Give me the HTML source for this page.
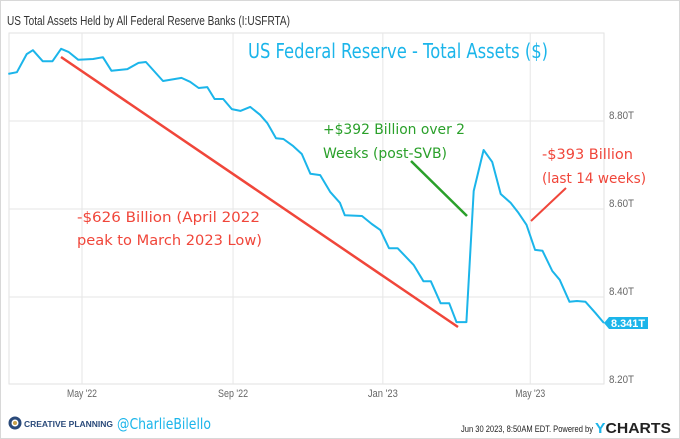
<!DOCTYPE html>
<html><head><meta charset="utf-8"><style>
html,body{margin:0;padding:0;background:#fff;}
svg{display:block;font-family:"Liberation Sans",sans-serif;}
.hand{font-family:"DejaVu Sans","Liberation Sans",sans-serif;}
</style></head><body>
<svg id="chart" width="680" height="439" viewBox="0 0 680 439">
<rect x="0.5" y="0.5" width="679" height="438" fill="#fff" stroke="#d8d8d8"/>
<text x="7" y="25" font-size="13" fill="#333" textLength="283" lengthAdjust="spacingAndGlyphs">US Total Assets Held by All Federal Reserve Banks (I:USFRTA)</text>
<rect x="9" y="33" width="595" height="351" fill="none" stroke="#e2e2e2"/>
<g id="grid"></g>
<g id="axes"></g>
<text class="hand" x="248" y="58" font-size="20" fill="#1bb5ea" textLength="300" lengthAdjust="spacingAndGlyphs">US Federal Reserve - Total Assets ($)</text>
<line x1="61" y1="57" x2="458" y2="327" stroke="#f0463a" stroke-width="2.5"/>
<line x1="411" y1="161" x2="467" y2="216" stroke="#2aa02a" stroke-width="2.5"/>
<line x1="531" y1="221" x2="566" y2="188" stroke="#f0463a" stroke-width="2"/>
<g class="hand" font-size="14">
<text x="323" y="134" fill="#2aa02a" textLength="142" lengthAdjust="spacingAndGlyphs">+$392 Billion over 2</text>
<text x="323" y="158" fill="#2aa02a" textLength="124" lengthAdjust="spacingAndGlyphs">Weeks (post-SVB)</text>
<text x="77" y="222" fill="#f0463a" textLength="183" lengthAdjust="spacingAndGlyphs">-$626 Billion (April 2022</text>
<text x="77" y="245" fill="#f0463a" textLength="185" lengthAdjust="spacingAndGlyphs">peak to March 2023 Low)</text>
<text x="542" y="159" fill="#f0463a" textLength="91" lengthAdjust="spacingAndGlyphs">-$393 Billion</text>
<text x="542" y="183" fill="#f0463a" textLength="104" lengthAdjust="spacingAndGlyphs">(last 14 weeks)</text>
</g>
<path id="series" fill="none" stroke="#1bb5ea" stroke-width="2" stroke-linejoin="round"/>
<g id="tag"></g>
<g>
<circle cx="15" cy="423" r="5" fill="none" stroke="#2a4a7a" stroke-width="3"/>
<circle cx="15" cy="423" r="2" fill="#c9a24a"/>
<text x="24" y="427" font-size="8" font-weight="bold" fill="#2a4a7a" textLength="89" lengthAdjust="spacingAndGlyphs">CREATIVE PLANNING</text>
<text class="hand" x="117" y="429" font-size="15" fill="#1bb5ea" textLength="94" lengthAdjust="spacingAndGlyphs">@CharlieBilello</text>
<text x="461" y="432" font-size="9.5" fill="#222" textLength="132" lengthAdjust="spacingAndGlyphs">Jun 30 2023, 8:50AM EDT.  Powered by</text>
<text x="595" y="433" font-size="15" font-weight="bold" fill="#222" textLength="76" lengthAdjust="spacingAndGlyphs"><tspan fill="#1bb5ea">Y</tspan>CHARTS</text>
</g>
</svg>
<script>
const dates=["2022-03-02","2022-03-09","2022-03-17","2022-03-22","2022-03-30","2022-04-07","2022-04-14","2022-04-20","2022-04-28","2022-05-10","2022-05-18","2022-05-25","2022-06-07","2022-06-16","2022-06-22","2022-07-06","2022-07-21","2022-07-28","2022-08-04","2022-08-11","2022-08-17","2022-08-24","2022-08-31","2022-09-07","2022-09-15","2022-09-23","2022-09-29","2022-10-06","2022-10-12","2022-10-20","2022-10-27","2022-11-03","2022-11-11","2022-11-19","2022-11-27","2022-12-01","2022-12-15","2022-12-23","2022-12-30","2023-01-06","2023-01-13","2023-01-26","2023-02-03","2023-02-09","2023-02-17","2023-02-24","2023-03-02","2023-03-10","2023-03-16","2023-03-24","2023-03-31","2023-04-07","2023-04-15","2023-04-21","2023-04-28","2023-05-05","2023-05-11","2023-05-19","2023-05-25","2023-06-02","2023-06-08","2023-06-15","2023-06-23","2023-06-30"];
const values=[8.907,8.911,8.952,8.961,8.936,8.936,8.964,8.957,8.939,8.941,8.945,8.914,8.918,8.932,8.934,8.891,8.898,8.889,8.875,8.877,8.850,8.850,8.827,8.823,8.832,8.814,8.795,8.761,8.759,8.743,8.725,8.680,8.677,8.639,8.614,8.586,8.584,8.566,8.552,8.511,8.511,8.473,8.436,8.436,8.386,8.386,8.343,8.343,8.641,8.734,8.707,8.634,8.614,8.593,8.564,8.507,8.505,8.459,8.439,8.389,8.391,8.389,8.364,8.341];
const yTicks=[8.20,8.40,8.60,8.80];
const yTickLabels=["8.20T","8.40T","8.60T","8.80T"];
const xTicks=["2022-05-01","2022-09-01","2023-01-01","2023-05-01"];
const xTickLabels=["May '22","Sep '22","Jan '23","May '23"];
const lastLabel="8.341T";

const NS="http://www.w3.org/2000/svg";
const DAY=86400000, X0=Date.parse("2022-05-01");
function xS(d){return 82+(Date.parse(d)-X0)/DAY*1.228;}
function yS(v){return 209-(v-8.6)*440;}
function mk(tag,attrs,parent){const e=document.createElementNS(NS,tag);for(const k in attrs)e.setAttribute(k,attrs[k]);parent.appendChild(e);return e;}
const grid=document.getElementById('grid'), axes=document.getElementById('axes');
yTicks.forEach((t,i)=>{
  const y=yS(t);
  if(y<384){const l=mk('line',{x1:9,x2:604,y1:y,y2:y,stroke:'#e6e6e6'},grid);
  
  }
  const tx=mk('text',{x:609,y:y-2,'font-size':11,fill:'#666',textLength:25,lengthAdjust:'spacingAndGlyphs'},axes);tx.textContent=yTickLabels[i];
  
  
});
xTicks.forEach((t,i)=>{
  const x=xS(t);
  const l=mk('line',{x1:x,x2:x,y1:33,y2:384,stroke:'#e6e6e6'},grid);
  
  
  const tx=mk('text',{x:x-15,y:397,'font-size':11,fill:'#666',textLength:30,lengthAdjust:'spacingAndGlyphs'},axes);tx.textContent=xTickLabels[i];
  
  
});
const n=Math.min(dates.length,values.length);
let d="";
for(let i=0;i<n;i++){d+=(i?"L":"M")+xS(dates[i]).toFixed(1)+","+yS(values[i]).toFixed(1);}
document.getElementById('series').setAttribute('d',d);
const ly=yS(values[n-1]);
const tag=document.getElementById('tag');
const p=mk('path',{d:`M604,${ly} L609,${ly-6} H648 V${ly+6} H609 Z`,fill:'#1bb5ea'},tag);


const tt=mk('text',{x:611,y:ly+4,'font-size':11,'font-weight':'bold',fill:'#fff',textLength:34,lengthAdjust:'spacingAndGlyphs'},tag);tt.textContent=lastLabel;


</script>
</body></html>
